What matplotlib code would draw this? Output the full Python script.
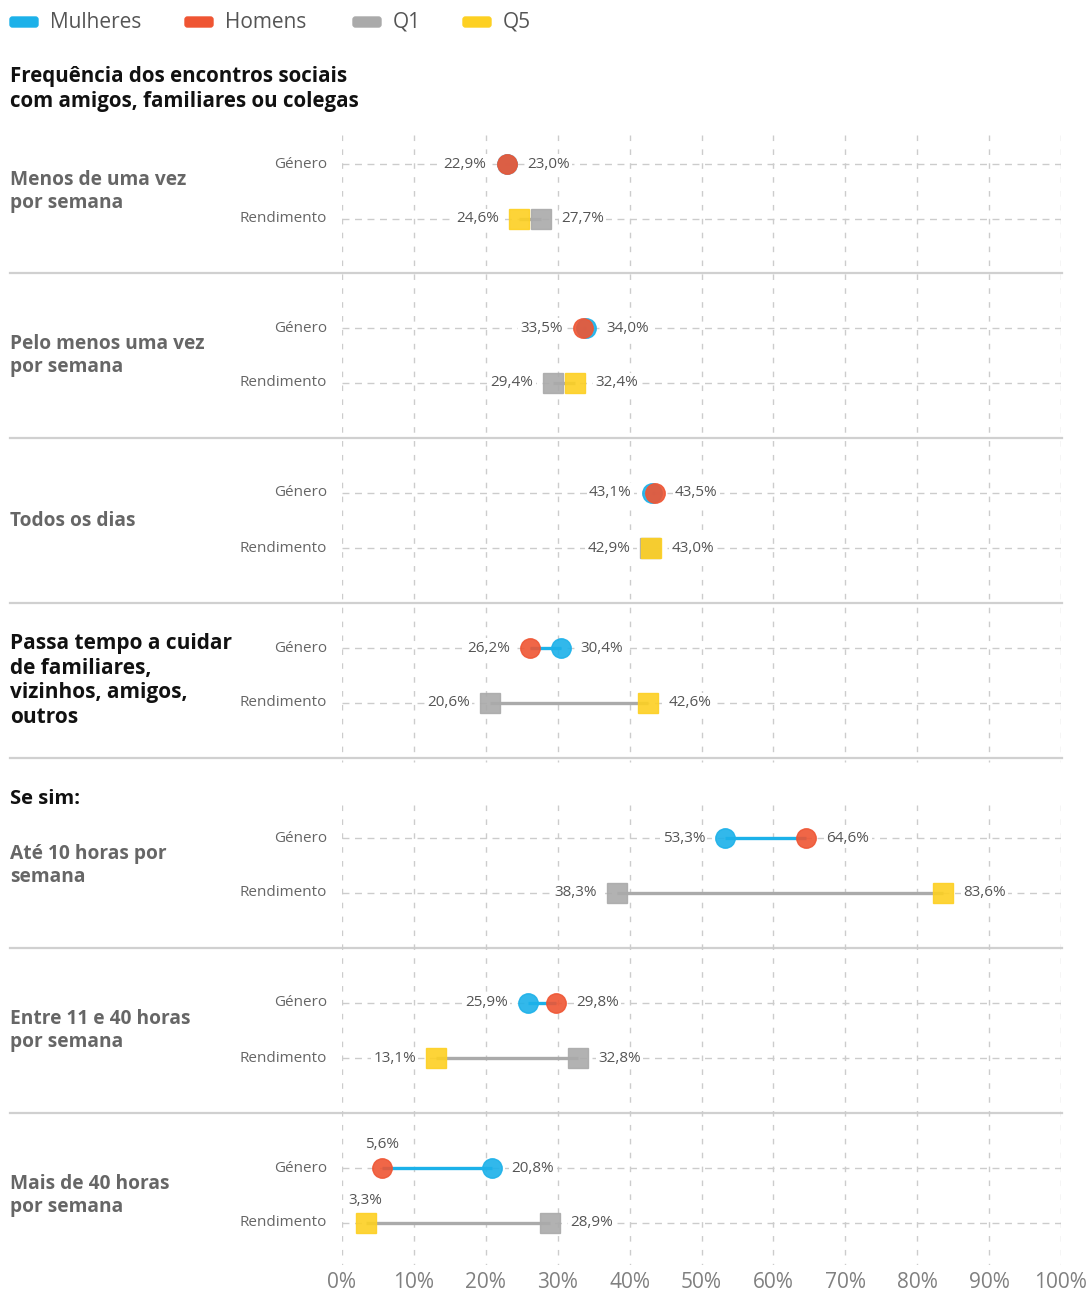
import numpy as np
import matplotlib.pyplot as plt
from matplotlib.patches import FancyBboxPatch
from matplotlib.lines import Line2D

plt.rcParams['font.family'] = ['Open Sans', 'DejaVu Sans']

# ---------- data ----------
SECTIONS = [
    "Menos de uma vez\npor semana",
    "Pelo menos uma vez\npor semana",
    "Todos os dias",
    "Passa tempo a cuidar\nde familiares,\nvizinhos, amigos,\noutros",
    "Até 10 horas por\nsemana",
    "Entre 11 e 40 horas\npor semana",
    "Mais de 40 horas\npor semana",
]
MULHERES = [23.0, 34.0, 43.1, 30.4, 53.3, 25.9, 20.8]
HOMENS = [22.9, 33.5, 43.5, 26.2, 64.6, 29.8, 5.6]
Q1 = [27.7, 29.4, 42.9, 20.6, 38.3, 32.8, 28.9]
Q5 = [24.6, 32.4, 43.0, 42.6, 83.6, 13.1, 3.3]
XTICKS = [0, 10, 20, 30, 40, 50, 60, 70, 80, 90, 100]

# ---------- layout (pixels from top) ----------
W, H = 1091, 1292
GEN_Y = [164, 328, 493, 648, 838, 1003, 1168]
ROW_GAP = 55
SEP_Y = [273, 438, 603, 758, 948, 1113]
X0, X1, YTOP, YBOT = 342, 1061, 135, 1265

C_BLUE = "#1cb1e9"
C_RED = "#ef5533"
C_GREY = "#aaaaaa"
C_YEL = "#fdd022"
C_TXT = "#555555"
C_LAB = "#666666"
C_GRID = "#cccccc"


def fmt(v):
    return f"{v:.1f}%".replace(".", ",")


fig = plt.figure(figsize=(W / 100, H / 100), dpi=100)

# overlay in pixel coords for texts, legend, separators
ov = fig.add_axes([0, 0, 1, 1], zorder=0)
ov.set_xlim(0, W); ov.set_ylim(H, 0); ov.axis("off")

ax = fig.add_axes([X0 / W, (H - YBOT) / H, (X1 - X0) / W, (YBOT - YTOP) / H], zorder=1)
ax.set_xlim(0, 100); ax.set_ylim(YBOT, YTOP); ax.axis("off")
ax.patch.set_alpha(0)

# vertical grid, broken around "Se sim:"
for x in XTICKS:
    ax.plot([x, x], [YTOP, 762], color=C_GRID, lw=1, ls=(0, (4, 6)), zorder=0)
    ax.plot([x, x], [805, YBOT], color=C_GRID, lw=1, ls=(0, (4, 6)), zorder=0)
    ax.text(x, 1283, f"{x}%", ha="center", va="center", fontsize=15, color="#808080", clip_on=False)

# separators
for y in SEP_Y:
    ov.add_line(Line2D([10, 1062], [y, y], color="#d0d0d0", lw=1.6, zorder=0))

# legend
leg = [("Mulheres", C_BLUE, 10), ("Homens", C_RED, 185), ("Q1", C_GREY, 353), ("Q5", C_YEL, 463)]
for name, col, lx in leg:
    ov.add_patch(FancyBboxPatch((lx, 17), 28, 10, boxstyle="round,pad=0,rounding_size=2.5",
                                fc=col, ec=col, lw=1))
    ov.text(lx + 40, 22, name, fontsize=15, color=C_TXT, va="center", ha="left")

ov.text(10, 89, "Frequência dos encontros sociais\ncom amigos, familiares ou colegas",
        fontsize=14.8, fontweight="bold", color="#111111", va="center", ha="left", linespacing=1.3)
ov.text(10, 799, "Se sim:", fontsize=14.5, fontweight="bold", color="#111111", va="center", ha="left")

bb = dict(boxstyle="square,pad=0.15", fc="white", ec="none")


def label_pair(lo, hi, y):
    if lo < 8:
        ax.text(lo, y - 23, fmt(lo), ha="center", va="center", fontsize=11, color=C_TXT, zorder=5)
    else:
        ax.text(lo - 2.8, y, fmt(lo), ha="right", va="center", fontsize=11, color=C_TXT, bbox=bb, zorder=5)
    ax.text(hi + 2.8, y, fmt(hi), ha="left", va="center", fontsize=11, color=C_TXT, bbox=bb, zorder=5)


for i, sec in enumerate(SECTIONS):
    gy = GEN_Y[i]
    ry = gy + ROW_GAP
    for y in (gy, ry):
        ax.plot([0, 100], [y, y], color=C_GRID, lw=1, ls=(0, (5, 4)), zorder=0)
    ov.text(327, gy, "Género", ha="right", va="center", fontsize=11, color=C_LAB)
    ov.text(327, ry, "Rendimento", ha="right", va="center", fontsize=11, color=C_LAB)

    big = sec.startswith("Passa")
    ov.text(10, (gy + ry) / 2 + (5 if big else 0), sec, ha="left", va="center", fontweight="bold",
            fontsize=15 if big else 13.8, color="#111111" if big else C_LAB,
            linespacing=1.23 if big else 1.25)

    # genero
    ax.plot([MULHERES[i], HOMENS[i]], [gy, gy], color=C_BLUE, lw=2.4, zorder=2, solid_capstyle="butt")
    ax.plot(MULHERES[i], gy, "o", ms=14, color=C_BLUE, mec=C_BLUE, alpha=0.9, zorder=3)
    ax.plot(HOMENS[i], gy, "o", ms=14, color=C_RED, mec=C_RED, alpha=0.9, zorder=4)
    label_pair(min(MULHERES[i], HOMENS[i]), max(MULHERES[i], HOMENS[i]), gy)

    # rendimento
    ax.plot([Q1[i], Q5[i]], [ry, ry], color=C_GREY, lw=2.4, zorder=2, solid_capstyle="butt")
    ax.plot(Q1[i], ry, "s", ms=14, color=C_GREY, mec=C_GREY, alpha=0.9, zorder=3)
    ax.plot(Q5[i], ry, "s", ms=14, color=C_YEL, mec=C_YEL, alpha=0.9, zorder=4)
    label_pair(min(Q1[i], Q5[i]), max(Q1[i], Q5[i]), ry)

fig.savefig("out.png", dpi=100, facecolor="white")
